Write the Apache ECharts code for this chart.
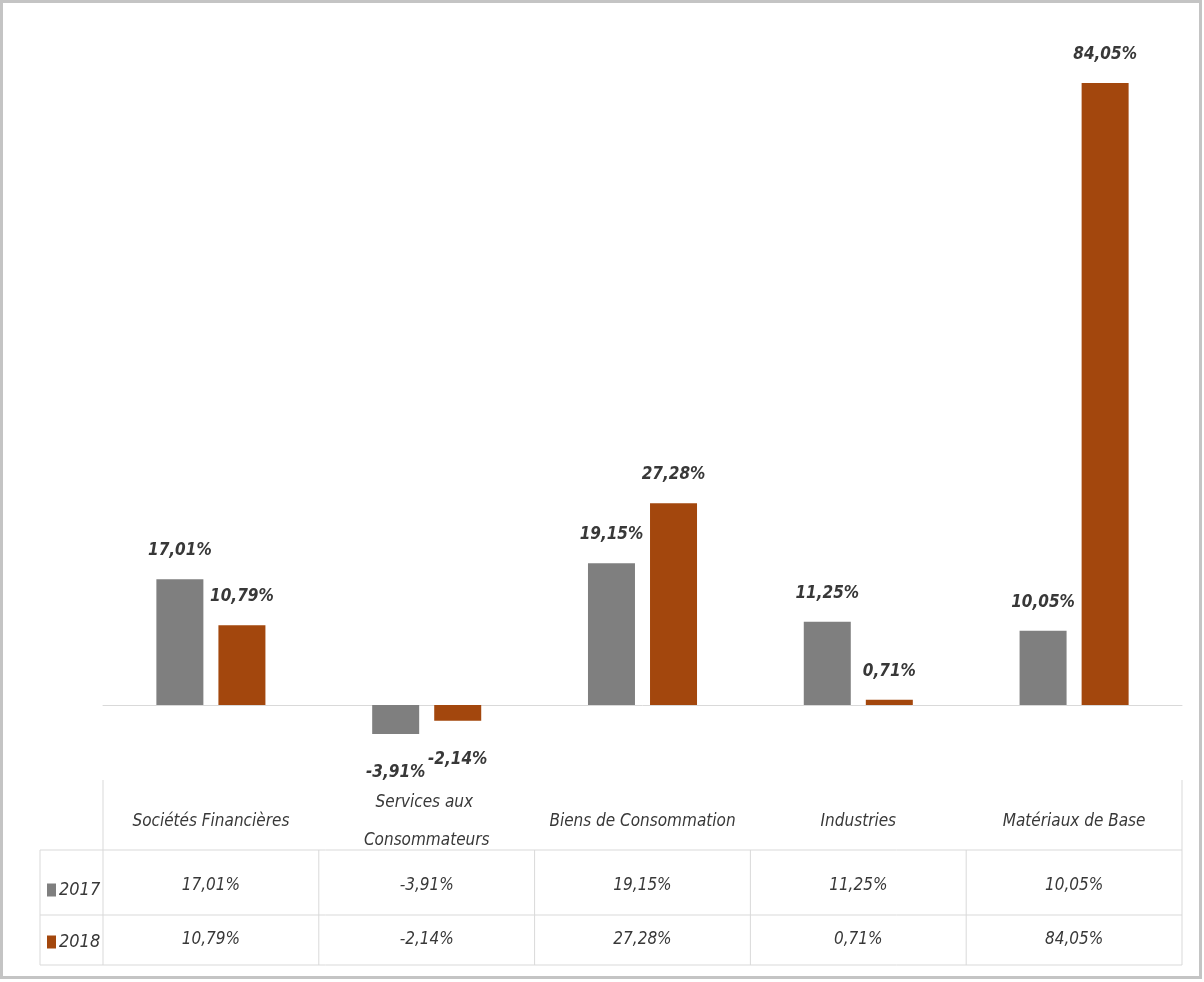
<!DOCTYPE html>
<html>
<head>
<meta charset="utf-8">
<script src="https://cdn.jsdelivr.net/npm/echarts@6/dist/echarts.min.js"></script>
<style>
html,body{margin:0;padding:0;background:#fff;}
#chart{width:1204px;height:982px;}
</style>
</head>
<body>
<div id="chart"></div>
<script>
const categories = ['Sociétés Financières', 'Services aux Consommateurs', 'Biens de Consommation', 'Industries', 'Matériaux de Base'];
const seriesNames = ['2017', '2018'];
const values2017 = [17.01, -3.91, 19.15, 11.25, 10.05];
const values2018 = [10.79, -2.14, 27.28, 0.71, 84.05];

const FONT = '"Liberation Sans Narrow", "DejaVu Sans Condensed", "Liberation Sans", sans-serif';
const TXT = '#383838';
const fmt = v => v.toFixed(2).replace('.', ',') + '%';

function barData(vals) {
  return vals.map(v => ({
    value: v,
    label: v < 0 ? { position: 'bottom', distance: 30 } : { position: 'top', distance: 20 }
  }));
}

const chart = echarts.init(document.getElementById('chart'), null, { renderer: 'canvas' });

const tableAxis = (margin, formatter) => ({
  type: 'category',
  data: categories,
  position: 'bottom',
  axisLine: { show: false, onZero: false },
  axisTick: { show: false },
  splitLine: { show: false },
  axisLabel: {
    interval: 0,
    margin: margin,
    verticalAlign: 'middle',
    fontFamily: FONT,
    fontStyle: 'italic',
    fontSize: 17,
    color: TXT,
    width: 205,
    overflow: 'break',
    lineHeight: 38,
    formatter: formatter
  }
});

const labelStyle = { show: true, formatter: p => fmt(p.value), fontFamily: FONT, fontStyle: 'italic', fontWeight: 'bold', fontSize: 17, color: TXT };

chart.setOption({
  backgroundColor: '#ffffff',
  animation: false,
  grid: { left: 103, right: 22, top: 39, bottom: 203 },
  legend: {
    data: seriesNames,
    orient: 'vertical',
    left: 42,
    top: 876,
    itemWidth: 9,
    itemHeight: 13,
    itemGap: 34,
    icon: 'rect',
    textStyle: { fontFamily: FONT, fontStyle: 'italic', fontSize: 18, color: TXT, padding: [0, 0, 0, -2] }
  },
  xAxis: [
    {
      type: 'category',
      data: categories,
      axisLine: { show: true, onZero: true, lineStyle: { color: '#d9d9d9', width: 1 } },
      axisTick: { show: false },
      axisLabel: { show: false }
    },
    tableAxis(43, v => v),
    tableAxis(107, (v, i) => fmt(values2017[i])),
    tableAxis(161, (v, i) => fmt(values2018[i]))
  ],
  yAxis: {
    type: 'value',
    min: -10,
    max: 90,
    show: false,
    splitLine: { show: false }
  },
  series: [
    {
      name: seriesNames[0],
      type: 'bar',
      xAxisIndex: 0,
      barWidth: 47,
      barGap: '32%',
      itemStyle: { color: '#7f7f7f' },
      label: labelStyle,
      data: barData(values2017)
    },
    {
      name: seriesNames[1],
      type: 'bar',
      xAxisIndex: 0,
      barWidth: 47,
      barGap: '32%',
      itemStyle: { color: '#a3470d' },
      label: labelStyle,
      data: barData(values2018)
    }
  ]
});

// Data-table grid lines, positioned from the category axis scale
const c0 = chart.convertToPixel({ xAxisIndex: 0 }, categories[0]);
const c1 = chart.convertToPixel({ xAxisIndex: 0 }, categories[1]);
const band = c1 - c0;
const bounds = categories.map(c => chart.convertToPixel({ xAxisIndex: 0 }, c) - band / 2);
bounds.push(bounds[bounds.length - 1] + band);
const rowTop = 780, headBottom = 850, row1Bottom = 915, tableBottom = 965, tableLeft = 40;
const lineStyle = { stroke: '#d9d9d9', lineWidth: 1 };
const graphics = [];
[headBottom, row1Bottom, tableBottom].forEach(y => {
  graphics.push({ type: 'line', shape: { x1: tableLeft, y1: y, x2: bounds[bounds.length - 1], y2: y }, style: lineStyle, silent: true });
});
bounds.forEach((x, i) => {
  const y1 = (i === 0 || i === bounds.length - 1) ? rowTop : headBottom;
  graphics.push({ type: 'line', shape: { x1: x, y1: y1, x2: x, y2: tableBottom }, style: lineStyle, silent: true });
});
graphics.push({ type: 'line', shape: { x1: tableLeft, y1: headBottom, x2: tableLeft, y2: tableBottom }, style: lineStyle, silent: true });
graphics.push({ type: 'rect', shape: { x: 1.5, y: 1.5, width: 1199, height: 976 }, style: { fill: 'none', stroke: '#c4c4c4', lineWidth: 3 }, silent: true });
chart.setOption({ graphic: graphics });
</script>
</body>
</html>
